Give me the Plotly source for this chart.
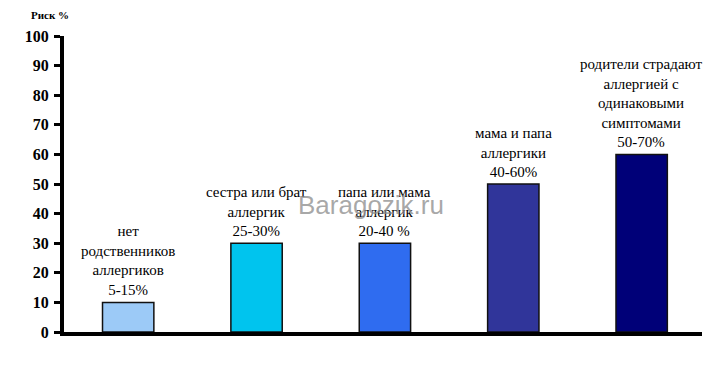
import plotly.graph_objects as go

categories = ["нет родственников аллергиков", "сестра или брат аллергик",
              "папа или мама аллергик", "мама и папа аллергики",
              "родители страдают аллергией с одинаковыми симптомами"]
values = [10, 30, 30, 50, 60]
bar_labels = ["нет<br>родственников<br>аллергиков<br>5-15%",
              "сестра или брат<br>аллергик<br>25-30%",
              "папа или мама<br>аллергик<br>20-40 %",
              "мама и папа<br>аллергики<br>40-60%",
              "родители страдают<br>аллергией с<br>одинаковыми<br>симптомами<br>50-70%"]
colors = ["#9ccaf7", "#00c4ee", "#2f6cf0", "#30359a", "#000078"]
y_ticks = [0, 10, 20, 30, 40, 50, 60, 70, 80, 90, 100]

xs = list(range(len(categories)))

fig = go.Figure()
fig.add_trace(go.Bar(
    x=xs, y=values, width=0.4,
    marker=dict(color=colors, line=dict(color="#111111", width=1.5)),
    hovertext=categories, showlegend=False,
))

for x, v, lab in zip(xs, values, bar_labels):
    fig.add_annotation(x=x, y=v, text=lab, showarrow=False, xanchor="center",
                       yanchor="bottom", yshift=2,
                       font=dict(family="Liberation Serif", size=15, color="black"))

fig.add_annotation(xref="paper", yref="paper", x=-0.053, y=1.094, text="<b>Риск %</b>",
                   showarrow=False, xanchor="left", yanchor="top", borderpad=0,
                   font=dict(family="Liberation Serif", size=11, color="black"))

fig.add_annotation(xref="paper", yref="paper", x=0.481, y=0.429, text="Baragozik.ru",
                   showarrow=False, xanchor="center", yanchor="middle",
                   font=dict(family="Liberation Sans", size=26, color="rgba(140,140,140,0.75)"))

fig.update_layout(
    width=726, height=389,
    margin=dict(l=56, r=32, t=28, b=65),
    paper_bgcolor="white", plot_bgcolor="white",
    xaxis=dict(range=[-0.5, 4.47], showticklabels=False, ticks="", showgrid=False,
               zeroline=False, showline=True, linecolor="black", linewidth=4),
    yaxis=dict(range=[0, 100], tickvals=y_ticks, ticks="outside", ticklen=6,
               tickwidth=3, tickcolor="black", showgrid=False, zeroline=False,
               showline=True, linecolor="black", linewidth=4,
               tickfont=dict(family="Liberation Serif", size=16, color="black", weight="bold"),
               ticklabelstandoff=2),
)

fig.write_html("out.html")
